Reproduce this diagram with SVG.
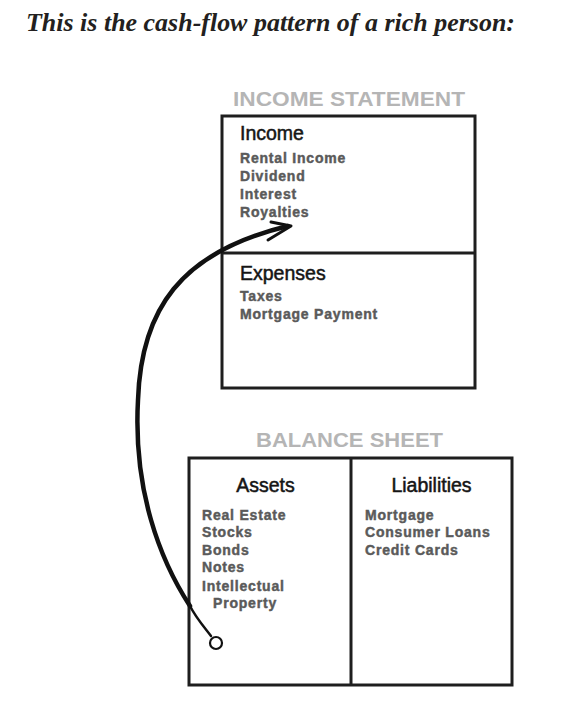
<svg xmlns="http://www.w3.org/2000/svg" width="584" height="705" viewBox="0 0 584 705">
<style>
.title{font-family:"Liberation Serif",serif;font-style:italic;font-weight:bold;font-size:25px;fill:#231f20}
.hdr{font-family:"Liberation Sans",Arial,sans-serif;font-weight:bold;font-size:21px;fill:#b5b5b5}
.sec{font-family:"Liberation Sans",Arial,sans-serif;font-size:19.5px;fill:#151515;stroke:#151515;stroke-width:0.5}
.item{font-family:"Liberation Sans",Arial,sans-serif;font-weight:bold;font-size:14px;fill:#5a5a5a;stroke:#5a5a5a;stroke-width:0.45;letter-spacing:0.8px}
.box{fill:none;stroke:#1e1e1e;stroke-width:3}
.flow{fill:none;stroke:#111;stroke-linecap:round;stroke-linejoin:round}
</style>
<rect width="584" height="705" fill="#fff"/>
<text class="title" x="26" y="31" textLength="489" lengthAdjust="spacingAndGlyphs">This is the cash-flow pattern of a rich person:</text>

<g id="income-statement">
<text class="hdr" x="349" y="106" text-anchor="middle" textLength="232" lengthAdjust="spacingAndGlyphs">INCOME STATEMENT</text>
<rect class="box" x="222" y="116" width="253" height="272"/>
<line class="box" x1="222" y1="253" x2="475" y2="253"/>
</g>
<g id="income">
<text class="sec" x="240" y="140">Income</text>
<text class="item" x="240" y="163">Rental Income</text>
<text class="item" x="240" y="181">Dividend</text>
<text class="item" x="240" y="199">Interest</text>
<text class="item" x="240" y="217">Royalties</text>
</g>
<g id="expenses">
<text class="sec" x="240" y="280">Expenses</text>
<text class="item" x="240" y="301">Taxes</text>
<text class="item" x="240" y="319">Mortgage Payment</text>
</g>

<g id="balance-sheet">
<text class="hdr" x="349.5" y="447" text-anchor="middle" textLength="187" lengthAdjust="spacingAndGlyphs">BALANCE SHEET</text>
<rect class="box" x="189" y="458" width="323" height="227"/>
<line class="box" x1="351" y1="458" x2="351" y2="685"/>
</g>
<g id="assets">
<text class="sec" x="265.5" y="492" text-anchor="middle">Assets</text>
<text class="item" x="202" y="520">Real Estate</text>
<text class="item" x="202" y="537">Stocks</text>
<text class="item" x="202" y="555">Bonds</text>
<text class="item" x="202" y="572">Notes</text>
<text class="item" x="202" y="591">Intellectual</text>
<text class="item" x="213" y="608">Property</text>
<circle cx="216" cy="643" r="6" fill="#fff" stroke="#111" stroke-width="2.2"/>
</g>
<g id="liabilities">
<text class="sec" x="431.5" y="492" text-anchor="middle">Liabilities</text>
<text class="item" x="365" y="520">Mortgage</text>
<text class="item" x="365" y="537">Consumer Loans</text>
<text class="item" x="365" y="555">Credit Cards</text>
</g>

<g id="connectors">
<path class="flow" stroke-width="2.5" d="M211 636 C205 628 196 618 190 606"/>
<path class="flow" stroke-width="4.5" d="M190 606 C160 560 133 490 138 400 C141 310 180 252 288 226"/>
<path class="flow" stroke-width="3" d="M271 222 L291 226 L268 240"/>
</g>
</svg>
